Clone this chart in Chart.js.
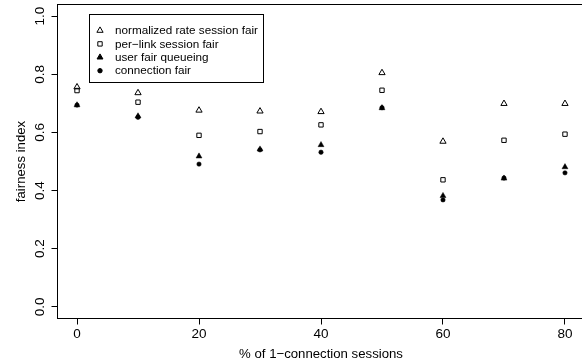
<!DOCTYPE html>
<html>
<head>
<meta charset="utf-8">
<script src="https://cdn.jsdelivr.net/npm/chart.js@4.4.0/dist/chart.umd.min.js"></script>
<style>
    html, body { margin: 0; padding: 0; overflow: hidden; background: #fff; }
    #wrap { position: relative; width: 590px; height: 364px; }
</style>
</head>
<body>
<div id="wrap"><canvas id="fairnessChart"></canvas></div>
<script>
// % of 1-connection sessions
const sessoes = [0, 10, 20, 30, 40, 50, 60, 70, 80]

const normalizedRate = [0.756, 0.736, 0.676, 0.673, 0.671, 0.805, 0.569, 0.699, 0.699]
const perLink = [0.744, 0.704, 0.590, 0.603, 0.626, 0.745, 0.437, 0.573, 0.594]
const userFair = [0.694, 0.656, 0.518, 0.542, 0.557, 0.684, 0.382, 0.442, 0.481]
const connectionFair = [0.694, 0.652, 0.491, 0.540, 0.532, 0.685, 0.368, 0.443, 0.461]

const nomesSeries = ['normalized rate session fair', 'per\u2212link session fair', 'user fair queueing', 'connection fair']

const xTicks = [0, 20, 40, 60, 80]
const yTicks = [0, 0.2, 0.4, 0.6, 0.8, 1.0]

const fonte = '"Liberation Sans", Arial, Helvetica, sans-serif'

function pontos(valores) {
    return sessoes.map((s, i) => ({ x: s, y: valores[i] }))
}

// moldura do grafico (estilo R)
const moldura = {
    id: 'moldura',
    afterDraw(chart) {
        const { ctx, chartArea } = chart
        ctx.save()
        ctx.strokeStyle = '#000'
        ctx.lineWidth = 1
        ctx.strokeRect(chartArea.left, chartArea.top, chartArea.right - chartArea.left, chartArea.bottom - chartArea.top)
        ctx.restore()
    }
}

// legenda dentro da area do grafico
const legendaBox = {
    id: 'legendaBox',
    afterDraw(chart) {
        const ctx = chart.ctx
        ctx.save()
        ctx.strokeStyle = '#000'
        ctx.lineWidth = 1
        ctx.strokeRect(89.5, 14.5, 174, 68)
        ctx.font = '11.7px ' + fonte
        ctx.textBaseline = 'middle'
        chart.data.datasets.forEach((ds, i) => {
            const y = 30.5 + i * 13.4
            ctx.fillStyle = ds.pointBackgroundColor
            ctx.strokeStyle = '#000'
            Chart.helpers.drawPoint(ctx, {
                pointStyle: ds.pointStyle,
                radius: ds.pointRadius,
                borderWidth: 1,
                rotation: 0
            }, 100, y)
            ctx.fillStyle = '#000'
            ctx.fillText(ds.label, 115, y + 0.5)
        })
        ctx.restore()
    }
}

let grafico

document.addEventListener('DOMContentLoaded', () => {
    const canvas = document.getElementById('fairnessChart')

    grafico = new Chart(canvas, {
        type: 'scatter',
        data: {
            datasets: [{
                label: nomesSeries[0],
                data: pontos(normalizedRate),
                pointStyle: 'triangle',
                pointRadius: 3.6,
                pointBackgroundColor: 'rgba(0,0,0,0)',
                pointBorderColor: '#000',
                pointBorderWidth: 1
            }, {
                label: nomesSeries[1],
                data: pontos(perLink),
                pointStyle: 'rect',
                pointRadius: 3.1,
                pointBackgroundColor: 'rgba(0,0,0,0)',
                pointBorderColor: '#000',
                pointBorderWidth: 1
            }, {
                label: nomesSeries[2],
                data: pontos(userFair),
                pointStyle: 'triangle',
                pointRadius: 3.4,
                pointBackgroundColor: '#000',
                pointBorderColor: '#000',
                pointBorderWidth: 0.5
            }, {
                label: nomesSeries[3],
                data: pontos(connectionFair),
                pointStyle: 'circle',
                pointRadius: 2.2,
                pointBackgroundColor: '#000',
                pointBorderColor: '#000',
                pointBorderWidth: 0.5
            }]
        },
        options: {
            responsive: true,
            maintainAspectRatio: false,
            animation: false,
            layout: {
                autoPadding: false,
                padding: { top: 4.5, right: 5.5, bottom: 0, left: 0 }
            },
            plugins: {
                legend: { display: false },
                tooltip: { enabled: false }
            },
            scales: {
                x: {
                    type: 'linear',
                    min: -3.2,
                    max: 83.2,
                    afterBuildTicks: s => { s.ticks = xTicks.map(v => ({ value: v })) },
                    afterFit: s => { s.height = 45.5; s.paddingLeft = 0; s.paddingRight = 0 },
                    border: { display: false },
                    grid: { drawOnChartArea: false, drawTicks: true, tickLength: 6, color: '#000', lineWidth: 1 },
                    ticks: {
                        color: '#000',
                        padding: 2,
                        maxRotation: 0,
                        font: { family: fonte, size: 13.5 },
                        callback: v => String(v)
                    },
                    title: {
                        display: true,
                        text: '% of 1\u2212connection sessions',
                        color: '#000',
                        font: { family: fonte, size: 13.2 },
                        padding: { top: 0, bottom: 1.5 }
                    }
                },
                y: {
                    type: 'linear',
                    min: -0.04,
                    max: 1.04,
                    afterBuildTicks: s => { s.ticks = yTicks.map(v => ({ value: v })) },
                    afterFit: s => { s.width = 57.5; s.paddingTop = 0; s.paddingBottom = 0 },
                    border: { display: false },
                    grid: { drawOnChartArea: false, drawTicks: true, tickLength: 6, color: '#000', lineWidth: 1 },
                    ticks: {
                        color: '#000',
                        minRotation: 90,
                        maxRotation: 90,
                        crossAlign: 'center',
                        padding: 1.5,
                        font: { family: fonte, size: 13.5 },
                        callback: v => v.toFixed(1)
                    },
                    title: {
                        display: true,
                        text: 'fairness index',
                        color: '#000',
                        font: { family: fonte, size: 13.2 },
                        padding: { top: 13, bottom: 0 }
                    }
                }
            }
        },
        plugins: [moldura, legendaBox]
    })
})
</script>
</body>
</html>
